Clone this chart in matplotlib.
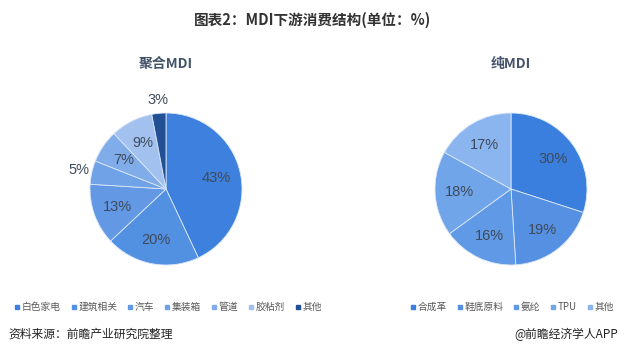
import numpy as np
import matplotlib
matplotlib.use("Agg")
import matplotlib.pyplot as plt
from matplotlib.lines import Line2D

plt.rcParams['font.family'] = ['Noto Sans CJK SC', 'DejaVu Sans']

# 聚合MDI
left_labels = ["白色家电", "建筑相关", "汽车", "集装箱", "管道", "胶粘剂", "其他"]
left_values = [43, 20, 13, 5, 7, 9, 3]
left_colors = ["#3d80dd", "#5290e2", "#6399e4", "#6fa2e7", "#80ace9", "#a2c1ef", "#234f95"]

# 纯MDI
right_labels = ["合成革", "鞋底原料", "氨纶", "TPU", "其他"]
right_values = [30, 19, 16, 18, 17]
right_colors = ["#3a7fdd", "#5590e3", "#609ae6", "#70a5ea", "#8bb5ee"]

W, H = 626, 357
fig = plt.figure(figsize=(W / 100, H / 100), dpi=100)

R = 76  # pie radius in px
LIM = 1.3


def make_ax(cx, cy):
    w = 2 * LIM * R
    return fig.add_axes([(cx - w / 2) / W, (H - cy - w / 2) / H, w / W, w / H])


def draw_pie(ax, values, colors, outside=()):
    wedges, _ = ax.pie(values, colors=colors, startangle=90, counterclock=False,
                       radius=1, wedgeprops=dict(edgecolor="#dce8f8", linewidth=0.6))
    for i, (w, v) in enumerate(zip(wedges, values)):
        ang = np.deg2rad((w.theta1 + w.theta2) / 2)
        d = 1.17 if i in outside else 0.68
        ax.text(d * np.cos(ang), d * np.sin(ang), f"{v}%", ha="center", va="center",
                fontsize=10.5, color="#3f4a5a", family="Liberation Sans")
    ax.set_xlim(-LIM, LIM)
    ax.set_ylim(-LIM, LIM)
    ax.set_aspect("equal")
    ax.axis("off")


ax1 = make_ax(166, 189)
draw_pie(ax1, left_values, left_colors, outside=(3, 6))
ax2 = make_ax(511, 189)
draw_pie(ax2, right_values, right_colors)

fig.text(0.5, 1 - 20 / H, "图表2：MDI下游消费结构(单位：%)", ha="center", va="center",
         fontsize=10.5, fontweight="bold", color="#333333")
fig.text(166 / W, 1 - 64 / H, "聚合MDI", ha="center", va="center",
         fontsize=10, fontweight="bold", color="#44546a")
fig.text(511 / W, 1 - 64 / H, "纯MDI", ha="center", va="center",
         fontsize=10, fontweight="bold", color="#44546a")


def legend(labels, colors, cx):
    handles = [Line2D([], [], marker="s", linestyle="", markersize=3.5, color=c) for c in colors]
    fig.legend(handles, labels, loc="center", bbox_to_anchor=(cx / W, 1 - 307 / H),
               ncol=len(labels), frameon=False, fontsize=7, handlelength=0.6,
               handletextpad=0.2, columnspacing=1.0, labelcolor="#595959")


legend(left_labels, left_colors, 168)
legend(right_labels, right_colors, 512)

fig.text(8 / W, 1 - 334 / H, "资料来源：前瞻产业研究院整理", ha="left", va="center",
         fontsize=8.5, color="#222222")
fig.text(618 / W, 1 - 334 / H, "@前瞻经济学人APP", ha="right", va="center",
         fontsize=8.5, color="#222222")

fig.savefig("out.png", dpi=100, facecolor="white")
